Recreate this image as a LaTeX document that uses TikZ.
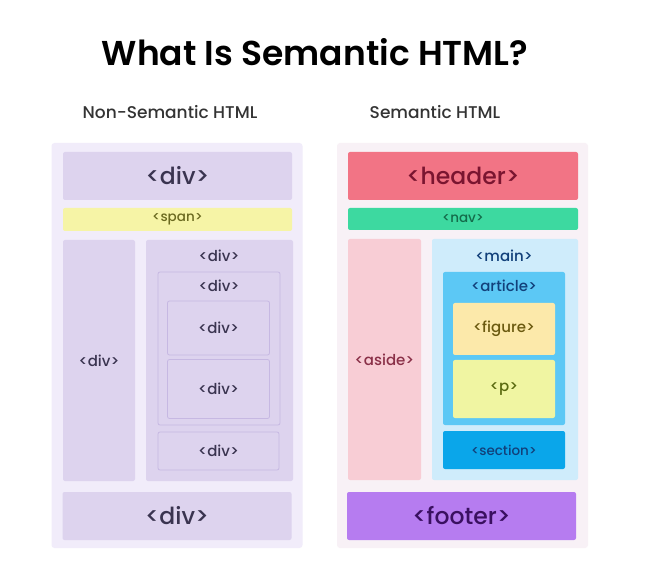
\documentclass[tikz,border=0pt]{standalone}
\usepackage{fontspec}
\setmainfont{Poppins Medium}
\newfontfamily\titlefont{Poppins SemiBold}
\definecolor{lpanel}{HTML}{F1ECFA}
\definecolor{lbox}{HTML}{DDD3EE}
\definecolor{lline}{HTML}{C6B8E2}
\definecolor{ltext}{HTML}{3A3450}
\definecolor{spanc}{HTML}{F6F4A6}
\definecolor{spant}{HTML}{6B6A20}
\definecolor{rpanel}{HTML}{F8F1F6}
\definecolor{headc}{HTML}{F27485}
\definecolor{headt}{HTML}{7A1530}
\definecolor{navc}{HTML}{3DD9A0}
\definecolor{navt}{HTML}{146B4A}
\definecolor{asidec}{HTML}{F8CDD5}
\definecolor{asidet}{HTML}{8A3048}
\definecolor{mainc}{HTML}{CFECFB}
\definecolor{bluet}{HTML}{12407A}
\definecolor{articlec}{HTML}{5CC8F5}
\definecolor{figurec}{HTML}{FCE9AA}
\definecolor{figuret}{HTML}{6B5A10}
\definecolor{pc}{HTML}{F0F5A2}
\definecolor{pt}{HTML}{5A6A10}
\definecolor{sectionc}{HTML}{0AA6EA}
\definecolor{footc}{HTML}{B67CF0}
\definecolor{foott}{HTML}{3A1060}
\tikzset{
  blk/.style={rectangle, rounded corners=2pt, inner sep=0pt, outer sep=0pt},
  ldiv/.style={blk, fill=lbox, draw=lline, line width=0.8pt, text=ltext},
  big/.style={font=\fontsize{23.5}{26}\selectfont},
  small/.style={font=\fontsize{15}{17}\selectfont},
  tiny/.style={font=\fontsize{13.5}{15}\selectfont},
}
\begin{document}
\begin{tikzpicture}[x=1pt,y=-1pt]
\useasboundingbox (0,0) rectangle (646,580);
\fill[white] (0,0) rectangle (646,580);
% title
\node[font=\fontsize{34.5}{40}\selectfont\titlefont] (title) at (315,52) {What Is Semantic HTML?};
\node[font=\fontsize{17}{20}\selectfont, text=black!80] (lt) at (170,112) {Non-Semantic HTML};
\node[font=\fontsize{17}{20}\selectfont, text=black!80] (rt) at (435,112) {Semantic HTML};
% left panel
\node[blk, fill=lpanel, minimum width=251pt, minimum height=405pt, rounded corners=3pt] (lp) at (177,345.5) {};
\node[ldiv, draw=none, big, minimum width=229pt, minimum height=48pt] (ld1) at (177.5,176) {<div>};
\node[blk, fill=spanc, text=spant, tiny, minimum width=229pt, minimum height=23pt] (lspan) at (177.5,219.5) {<span>};
\node[ldiv, draw=none, small, minimum width=72pt, minimum height=241pt] (ld2) at (99,360.5) {<div>};
\node[ldiv, draw=none, minimum width=147pt, minimum height=241pt] (ld3) at (219.5,360.5) {};
\node[small, text=ltext] (ld3l) at (219,256) {<div>};
\node[ldiv, minimum width=122pt, minimum height=153pt] (ld4) at (219,348.5) {};
\node[small, text=ltext] (ld4l) at (219,286) {<div>};
\node[ldiv, small, minimum width=102pt, minimum height=54pt] (ld5) at (218.5,328) {<div>};
\node[ldiv, small, minimum width=102pt, minimum height=59pt] (ld6) at (218.5,389) {<div>};
\node[ldiv, small, minimum width=121pt, minimum height=38pt] (ld7) at (218.5,451) {<div>};
\node[ldiv, draw=none, big, minimum width=229pt, minimum height=48pt] (ld8) at (177,516) {<div>};
% right panel
\node[blk, fill=rpanel, minimum width=251pt, minimum height=405pt, rounded corners=3pt] (rp) at (462.5,345.5) {};
\node[blk, fill=headc, text=headt, big, minimum width=230pt, minimum height=48pt] (header) at (463,176) {<header>};
\node[blk, fill=navc, text=navt, tiny, minimum width=230pt, minimum height=22pt] (nav) at (463,219) {<nav>};
\node[blk, fill=asidec, text=asidet, small, minimum width=73pt, minimum height=241pt] (aside) at (384.5,359.5) {<aside>};
\node[blk, fill=mainc, minimum width=146pt, minimum height=241pt] (main) at (505,359.5) {};
\node[small, text=bluet] (mainl) at (504,256) {<main>};
\node[blk, fill=articlec, minimum width=122pt, minimum height=153pt] (article) at (504,348.5) {};
\node[small, text=bluet] (articlel) at (504,286) {<article>};
\node[blk, fill=figurec, text=figuret, small, minimum width=102pt, minimum height=52pt] (figure) at (504,329) {<figure>};
\node[blk, fill=pc, text=pt, small, minimum width=102pt, minimum height=58pt] (p) at (504,389) {<p>};
\node[blk, fill=sectionc, text=bluet, tiny, minimum width=122pt, minimum height=38pt] (section) at (504,450) {<section>};
\node[blk, fill=footc, text=foott, big, minimum width=229pt, minimum height=48pt] (footer) at (461.5,516) {<footer>};
\end{tikzpicture}
\end{document}
